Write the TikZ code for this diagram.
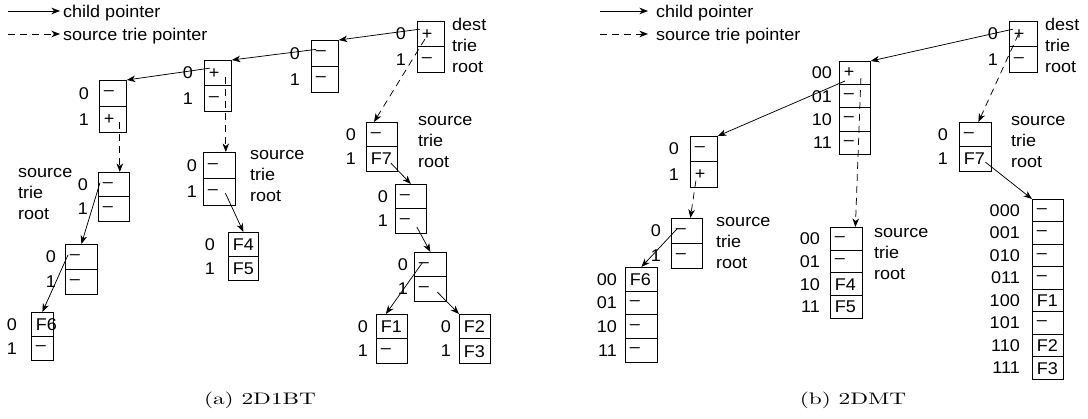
\documentclass[tikz,border=0pt]{standalone}
\usepackage{fontspec}
\usepackage{graphicx}
\usetikzlibrary{arrows.meta,calc}
\newfontfamily\figfont{Liberation Sans}[FakeStretch=1.06]

\tikzset{
  fig/.style={font=\figfont\fontsize{17}{21}\selectfont},
  cell/.style={draw, line width=0.8pt, inner xsep=4.5pt, inner ysep=0pt, align=left, fig},
  idx/.style={fig, inner sep=0pt},
  note/.style={fig, inner sep=0pt, align=left, anchor=west},
  child/.style={line width=0.75pt, -{Stealth[length=8.5pt,width=6.5pt,inset=2.5pt]}},
  srcptr/.style={child, dash pattern=on 7pt off 5pt},
  subcap/.style={inner sep=0pt, font=\fontsize{10}{12}\selectfont},
}

% a trie node: name, x, top y, width, cell height, index gap, {index/entry,...}
\newcommand{\trienode}[7]{%
  \pgfmathsetmacro{\tw}{#4-9}%
  \foreach \lab/\val [count=\i from 0] in {#7}{%
    \node[cell, text width=\tw pt, minimum height=#5pt, anchor=north west] (#1-\i) at (#2, #3+\i*#5) {\val};
    \node[idx, anchor=east] (#1-l\i) at ([xshift=-#6pt]#1-\i.west) {\lab};
  }%
}

\begin{document}
\begin{tikzpicture}[x=1pt,y=-1pt]
\useasboundingbox (0,0) rectangle (1088,419);

% ---------- (a) 2D1BT ----------
\coordinate (la1) at (8,11);
\node[note] (lta1) at (63,13) {child pointer};
\draw[child] (la1) -- ($(la1 -| lta1.west)+(-3,0)$);
\coordinate (la2) at (8,34);
\node[note] (lta2) at (63,36) {source trie pointer};
\draw[srcptr] (la2) -- ($(la2 -| lta2.west)+(-3,0)$);

\trienode{a0}{417}{21}{27}{25.5}{11}{0/+,1/–}
\trienode{a1}{311}{40}{27}{26}{11}{0/–,1/–}
\trienode{a2}{204}{60}{27}{25.5}{11}{0/+,1/–}
\trienode{a3}{99}{80}{27}{26}{10}{0/–,1/+}
\trienode{a4}{98}{172}{31}{24.5}{10}{0/–,1/–}
\trienode{a5}{65}{244}{32}{25}{9}{0/–,1/–}
\trienode{a6}{31}{312}{22}{24}{14}{0/F6,1/–}
\trienode{a7}{203}{152}{32}{26.5}{6}{0/–,1/–}
\trienode{a8}{228}{232}{30}{24}{13}{0/F4,1/F5}
\trienode{a9}{366}{122}{31}{24.5}{10}{0/–,1/F7}
\trienode{a10}{395}{184}{31}{24.5}{7}{0/–,1/–}
\trienode{a11}{414}{252}{32}{24.5}{6}{0/–,1/–}
\trienode{a12}{376}{314}{31}{24.5}{8}{0/F1,1/–}
\trienode{a13}{459}{314}{31}{24.5}{8}{0/F2,1/F3}

\node[note] (ta0) at (452,47) {\strut dest\\trie\\root\strut};
\node[note] (ta9) at (418,142) {\strut source\\trie\\root\strut};
\node[note] (ta7) at (250,176) {\strut source\\trie\\root\strut};
\node[note] (ta4) at (18,194) {\strut source\\trie\\root\strut};

\draw[child] ($(a0-0.west)+(3,-5)$) -- (a1-0.north east);
\draw[child] ($(a1-0.west)+(5,-4)$) -- (a2-0.north east);
\draw[child] ($(a2-0.west)+(6,-5)$) -- (a3-0.north east);
\draw[srcptr] ($(a2-0.east)+(-6,4)$) coordinate (p4) -- (p4 |- a7-0.north);
\draw[srcptr] ($(a3-1.east)+(-7,3)$) coordinate (p5) -- (p5 |- a4-0.north);
\draw[child] ($(a4-0.west)+(2,-2)$) -- (a5-0.north);
\draw[child] ($(a5-0.west)+(3,-2)$) -- (a6-0.north);
\draw[child] ($(a7-1.center)+(6,1)$) -- (a8-0.north);
\draw[srcptr] ($(a0-0.center)+(-6,5)$) -- ($(a9-0.north west)+(8,0)$);
\draw[child] ($(a9-1.center)+(9,4)$) -- (a10-0.north);
\draw[child] ($(a10-1.center)+(6,6)$) -- (a11-0.north);
\draw[child] ($(a11-0.center)+(-8,-2)$) -- ($(a12-0.north)+(-6,0)$);
\draw[child] ($(a11-1.center)+(7,3)$) -- (a13-0.north west);

\node[subcap] (capa) at (260,400) {\scalebox{2.33}[1.67]{(a) 2D1BT}};

% ---------- (b) 2DMT ----------
\coordinate (lb1) at (600,11);
\node[note] (ltb1) at (656,13) {child pointer};
\draw[child] (lb1) -- ($(lb1 -| ltb1.west)+(-8,0)$);
\coordinate (lb2) at (600,34);
\node[note] (ltb2) at (656,36) {source trie pointer};
\draw[srcptr] (lb2) -- ($(lb2 -| ltb2.west)+(-8,0)$);

\trienode{b0}{1009}{21}{28}{25.5}{11}{0/+,1/–}
\trienode{b1}{839}{61}{31}{23.25}{7}{00/+,01/–,10/–,11/–}
\trienode{b2}{690}{136}{27}{25.5}{11}{0/–,1/+}
\trienode{b3}{671}{218}{31}{25}{10}{0/–,1/–}
\trienode{b4}{625}{267}{32}{23.75}{8}{00/F6,01/–,10/–,11/–}
\trienode{b5}{830}{227}{32}{22.75}{10}{00/–,01/–,10/F4,11/F5}
\trienode{b6}{959}{122}{32}{24.5}{11}{0/–,1/F7}
\trienode{b7}{1032}{199}{31}{22.5}{12}{000/–,001/–,010/–,011/–,100/F1,101/–,110/F2,111/F3}

\node[note] (tb0) at (1045,47) {\strut dest\\trie\\root\strut};
\node[note] (tb6) at (1011,142) {\strut source\\trie\\root\strut};
\node[note] (tb3) at (716,243) {\strut source\\trie\\root\strut};
\node[note] (tb5) at (874,254) {\strut source\\trie\\root\strut};

\draw[child] ($(b0-0.west)+(4,-5)$) -- (b1-0.north east);
\draw[srcptr] ($(b0-0.center)+(-5,0)$) -- ($(b6-0.north)+(3,0)$);
\draw[child] ($(b1-0.west)+(6,8)$) -- (b2-0.north east);
\draw[srcptr] ($(b1-0.center)+(6,5)$) -- ($(b5-0.north)+(9,0)$);
\draw[srcptr] ($(b2-1.center)+(-8,6)$) -- ($(b3-0.north)+(3.5,0)$);
\draw[child] ($(b3-0.west)+(6,-2)$) -- (b4-0.north);
\draw[child] ($(b6-1.center)+(10,3)$) -- (b7-0.north west);

\node[subcap] (capb) at (853,400) {\scalebox{2.33}[1.67]{(b) 2DMT}};
\end{tikzpicture}
\end{document}
